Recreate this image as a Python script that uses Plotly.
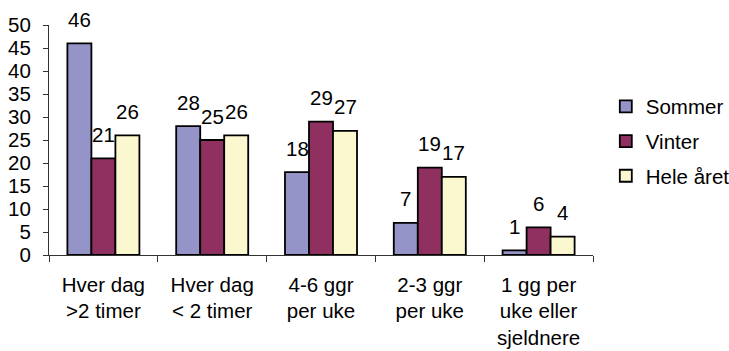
import plotly.graph_objects as go

categories = [
    "Hver dag<br>&gt;2 timer",
    "Hver dag<br>&lt; 2 timer",
    "4-6 ggr<br>per uke",
    "2-3 ggr<br>per uke",
    "1 gg per<br>uke eller<br>sjeldnere",
]
sommer = [46, 28, 18, 7, 1]
vinter = [21, 25, 29, 19, 6]
hele_aret = [26, 26, 27, 17, 4]

series = [
    ("Sommer", sommer, "#9494C8"),
    ("Vinter", vinter, "#8F3060"),
    ("Hele året", hele_aret, "#FBF8D0"),
]

FONT = dict(family="Liberation Sans, Arial, sans-serif", size=20.5, color="#000000")

fig = go.Figure()
for name, vals, color in series:
    fig.add_trace(go.Bar(
        name=name, x=categories, y=vals, legendgroup=name,
        marker=dict(color=color, line=dict(color="#000000", width=1.8)),
    ))

# value labels above each bar
bar_px = 24
for i, (name, vals, color) in enumerate(series):
    for cat, v in zip(categories, vals):
        fig.add_annotation(
            x=cat, y=v, xref="x", yref="y", text=str(v), showarrow=False,
            xshift=(i - 1) * bar_px, yshift=24, yanchor="middle",
            font=FONT,
        )

fig.update_layout(
    width=729, height=351,
    margin=dict(l=49, r=136, t=25, b=96),
    paper_bgcolor="white", plot_bgcolor="white",
    barmode="group", bargap=0.338, bargroupgap=0,
    font=FONT,
    legend=dict(xref="container", yref="container", x=0.831, y=0.598,
                xanchor="left", yanchor="middle",
                font=FONT, tracegroupgap=5, bgcolor="rgba(0,0,0,0)"),
    xaxis=dict(showline=True, linecolor="#333333", linewidth=1,
               ticks="outside", tickson="boundaries", ticklen=6,
               tickcolor="#333333", showgrid=False, tickfont=FONT,
               ticklabelstandoff=11, automargin=False),
    yaxis=dict(range=[0, 50], dtick=5, showline=True, linecolor="#333333",
               linewidth=1, ticks="outside", ticklen=5, tickcolor="#333333",
               showgrid=False, zeroline=False, tickfont=FONT,
               ticklabelstandoff=8, automargin=False),
)

fig.write_html("out.html")
